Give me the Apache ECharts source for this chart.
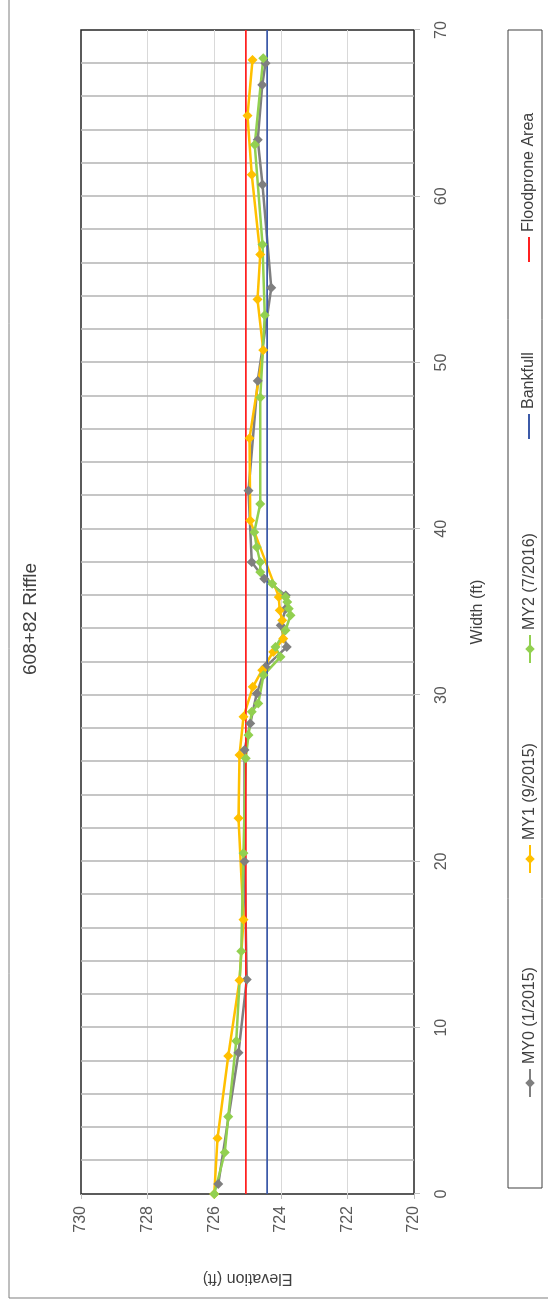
<!DOCTYPE html>
<html>
<head>
<meta charset="utf-8">
<title>608+82 Riffle</title>
<script src="https://cdn.jsdelivr.net/npm/echarts@6/dist/echarts.min.js"></script>
<style>
html, body { margin: 0; padding: 0; width: 548px; height: 1308px; overflow: hidden; background: #fff; }
/* chart is drawn landscape and turned a quarter turn to the left */
#chart { position: absolute; left: 0; top: 0; width: 1308px; height: 548px;
  transform-origin: 0 0; transform: translate(0, 1308px) rotate(-90deg); }
</style>
</head>
<body>
<div id="chart"></div>
<script>
var seriesNames = ['MY0 (1/2015)', 'MY1 (9/2015)', 'MY2 (7/2016)', 'Bankfull', 'Floodprone Area'];

// MY0 survey
var my0Width = [0.6, 8.5, 12.9, 20.0, 26.7, 28.3, 30.1, 31.7, 32.9, 34.2, 35.2, 36.0, 37.0, 38.0, 42.3, 48.9, 54.5, 60.7, 63.4, 66.7, 68.0];
var my0Elev  = [725.88, 725.27, 725.02, 725.09, 725.09, 724.92, 724.72, 724.46, 723.82, 724.0, 723.85, 723.85, 724.5, 724.87, 724.97, 724.69, 724.29, 724.55, 724.69, 724.56, 724.46];

// MY1 survey
var my1Width = [0, 3.35, 8.3, 12.85, 16.5, 22.6, 26.4, 28.7, 30.5, 31.5, 32.6, 33.4, 34.5, 35.1, 35.9, 40.5, 45.45, 50.75, 53.8, 56.5, 61.3, 64.85, 68.2];
var my1Elev  = [726.0, 725.9, 725.58, 725.24, 725.12, 725.27, 725.24, 725.12, 724.84, 724.56, 724.23, 723.93, 723.96, 724.03, 724.06, 724.92, 724.94, 724.53, 724.7, 724.62, 724.87, 725.0, 724.85];

// MY2 survey
var my2Width = [0, 2.5, 4.65, 9.2, 14.6, 20.5, 26.2, 27.6, 29.0, 29.5, 31.2, 32.3, 32.9, 33.9, 34.8, 35.2, 35.6, 35.9, 36.7, 37.4, 38.0, 38.9, 39.8, 41.5, 47.9, 52.85, 57.1, 63.1, 68.3];
var my2Elev  = [726.0, 725.68, 725.58, 725.34, 725.19, 725.12, 725.05, 724.97, 724.87, 724.68, 724.52, 724.01, 724.16, 723.86, 723.71, 723.76, 723.81, 723.86, 724.26, 724.62, 724.62, 724.72, 724.8, 724.62, 724.62, 724.48, 724.55, 724.78, 724.53];

// reference elevations, drawn across the whole width
var levelWidth = [0, 70];
var bankfullElev = [724.41, 724.41];
var floodproneElev = [725.05, 725.05];

var widthTicks = [0, 10, 20, 30, 40, 50, 60, 70];
var elevTicks = [720, 722, 724, 726, 728, 730];

var colors = ['#7f7f7f', '#ffc000', '#92d050', '#3c5aa8', '#ff2020'];
var font = 'Liberation Sans, Arial, sans-serif';
var legendLeft = [205, 429, 639, 864, 1041];

function pairs(xs, ys) {
  return xs.map(function (x, i) { return [x, ys[i]]; });
}

var myChart = echarts.init(document.getElementById('chart'), null, { renderer: 'canvas' });

var surveys = [pairs(my0Width, my0Elev), pairs(my1Width, my1Elev), pairs(my2Width, my2Elev)];
var levels = [pairs(levelWidth, bankfullElev), pairs(levelWidth, floodproneElev)];

var series = surveys.map(function (d, i) {
  return {
    name: seriesNames[i], type: 'line', data: d,
    symbol: 'diamond', symbolSize: 10,
    lineStyle: { width: 2.5, color: colors[i] },
    itemStyle: { color: colors[i] },
    animation: false
  };
}).concat(levels.map(function (d, i) {
  return {
    name: seriesNames[3 + i], type: 'line', data: d,
    symbol: 'none', showSymbol: false,
    lineStyle: { width: 1.8, color: colors[3 + i] },
    itemStyle: { color: colors[3 + i] },
    animation: false
  };
}));

var option = {
  animation: false,
  title: {
    text: '608+82 Riffle', left: 628, top: 16,
    textStyle: { fontFamily: font, fontSize: 19, fontWeight: 'normal', color: '#404040' }
  },
  grid: {
    left: 114, right: 30, top: 81, bottom: 134,
    show: true, borderColor: '#262626', borderWidth: 1.5, backgroundColor: '#fff'
  },
  xAxis: {
    type: 'value', min: widthTicks[0], max: widthTicks[widthTicks.length - 1], interval: 10,
    name: 'Width (ft)', nameLocation: 'middle', nameGap: 56,
    nameTextStyle: { fontFamily: font, fontSize: 16, color: '#404040' },
    axisLine: { show: false },
    axisTick: { show: true, inside: false, length: 6, lineStyle: { color: '#bfbfbf' } },
    axisLabel: { margin: 20, fontFamily: font, fontSize: 16, color: '#595959' },
    splitLine: { show: true, showMinLine: false, showMaxLine: false, lineStyle: { color: '#b8b8b8', width: 1.6 } },
    minorTick: { show: false, splitNumber: 5 },
    minorSplitLine: { show: true, lineStyle: { color: '#b8b8b8', width: 1.6 } }
  },
  yAxis: {
    type: 'value', min: elevTicks[0], max: elevTicks[elevTicks.length - 1], interval: 2,
    name: 'Elevation (ft)', nameLocation: 'middle', nameGap: 76,
    nameTextStyle: { fontFamily: font, fontSize: 16, color: '#404040' },
    axisLine: { show: false },
    axisTick: { show: true, inside: false, length: 5, lineStyle: { color: '#bfbfbf' } },
    axisLabel: { margin: 12, fontFamily: font, fontSize: 16, color: '#595959' },
    splitLine: { show: true, showMinLine: false, showMaxLine: false, lineStyle: { color: '#d9d9d9', width: 1 } }
  },
  legend: seriesNames.map(function (name, i) {
    var plain = i >= 3; // level lines: bare line in the legend
    return {
      data: [plain ? { name: name, icon: 'rect' } : name],
      left: legendLeft[i], top: plain ? 516 : 517,
      itemWidth: plain ? 25 : 28, itemHeight: plain ? 2 : 12, itemGap: 0,
      textStyle: { fontFamily: font, fontSize: 16, color: '#404040' },
      selectedMode: false
    };
  }),
  graphic: [
    { type: 'rect', silent: true, z: -10, shape: { x: 10, y: 9, width: 1400, height: 600 },
      style: { fill: 'none', stroke: '#7f7f7f', lineWidth: 1 } },
    { type: 'rect', silent: true, shape: { x: 120, y: 508, width: 1158, height: 34 },
      style: { fill: 'none', stroke: '#404040', lineWidth: 1 } }
  ],
  series: series
};

myChart.setOption(option);
</script>
</body>
</html>
